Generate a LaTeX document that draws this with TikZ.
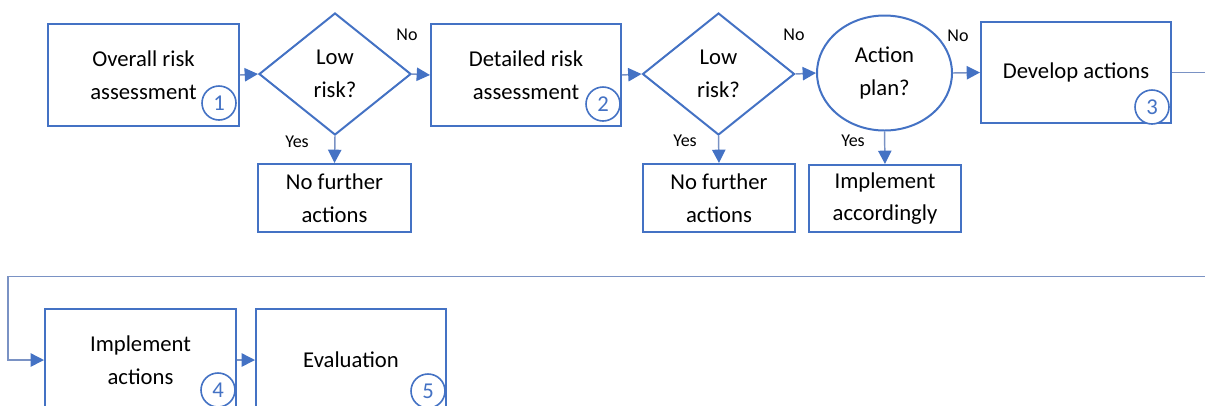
\documentclass[tikz,border=0pt]{standalone}
\usepackage{fontspec}
\setmainfont{Carlito}
\usetikzlibrary{shapes.geometric,arrows.meta}
\definecolor{boxblue}{RGB}{68,114,196}
\definecolor{connblue}{RGB}{122,146,196}
\tikzset{
  basebox/.style={draw=boxblue, line width=1.5pt, fill=white, align=center, text=black,
    font=\fontsize{17}{24.5}\selectfont, inner sep=0pt},
  stepbox/.style={basebox, rectangle, minimum width=#1*0.75pt},
  decide/.style={basebox, diamond, aspect=1.246, minimum width=152*0.75pt, minimum height=122*0.75pt},
  askoval/.style={basebox, ellipse, minimum width=135*0.75pt, minimum height=115*0.75pt},
  numcirc/.style={circle, draw=boxblue, line width=1.2pt, fill=white, text=boxblue,
    minimum size=34*0.75pt, inner sep=0pt, font=\fontsize{17}{20}\selectfont},
  lbl/.style={font=\fontsize{13.5}{16}\selectfont, text=black, inner sep=0pt},
  conn/.style={draw=connblue, line width=1.1pt,
    -{Triangle[length=10pt,width=10pt,fill=boxblue,color=boxblue]}},
}
\begin{document}
\begin{tikzpicture}[x=0.75pt,y=-0.75pt]
\useasboundingbox (0,0) rectangle (1205,405);
\clip (0,0) rectangle (1205,405);
% row 1
\node[stepbox=191, minimum height=102*0.75pt] (b1) at (143.5,75) {Overall risk\\assessment};
\node[numcirc] (c1) at (219,103) {1};
\node[decide] (d1) at (335,74) {Low\\risk?};
\node[stepbox=153, minimum height=68*0.75pt] (n1) at (334.5,198) {No further\\actions};
\node[stepbox=190, minimum height=102*0.75pt] (b2) at (526,75) {Detailed risk\\assessment};
\node[numcirc] (c2) at (603,104) {2};
\node[decide] (d2) at (718.5,74) {Low\\risk?};
\node[stepbox=152, minimum height=68*0.75pt] (n2) at (719,198) {No further\\actions};
\node[askoval] (e1) at (884.5,73) {Action\\plan?};
\node[stepbox=152, minimum height=67*0.75pt] (ia) at (885,198.5) {Implement\\accordingly};
\node[stepbox=190, minimum height=101*0.75pt] (b3) at (1076,72.5) {Develop actions};
\node[numcirc] (c3) at (1152,107) {3};
% row 2
\node[stepbox=191, minimum height=102*0.75pt] (b4) at (140.5,360) {Implement\\actions};
\node[numcirc] (c4) at (218,390) {4};
\node[stepbox=190, minimum height=102*0.75pt] (b5) at (351,360) {Evaluation};
\node[numcirc] (c5) at (428,391) {5};
% labels
\node[lbl] (no1) at (407,35) {No};
\node[lbl] (yes1) at (297,142) {Yes};
\node[lbl] (no2) at (794,35) {No};
\node[lbl] (yes2) at (685,141) {Yes};
\node[lbl] (no3) at (958,36) {No};
\node[lbl] (yes3) at (853,141) {Yes};
% connectors
\draw[conn] (b1.east) -- (d1.west);
\draw[conn] (d1.south) -- (n1.north);
\draw[conn] (d1.east) -- (b2.west);
\draw[conn] (b2.east) -- (d2.west);
\draw[conn] (d2.south) -- (n2.north);
\draw[conn] (d2.east) -- (e1.west);
\draw[conn] (e1.south) -- (ia.north);
\draw[conn] (e1.east) -- (b3.west);
\coordinate (rc) at (1240,276.5);
\coordinate (lc) at (8,276.5);
\draw[conn] (b3.east) -| (rc) -- (lc) |- (b4.west);
\draw[conn] (b4.east) -- (b5.west);
\end{tikzpicture}
\end{document}
